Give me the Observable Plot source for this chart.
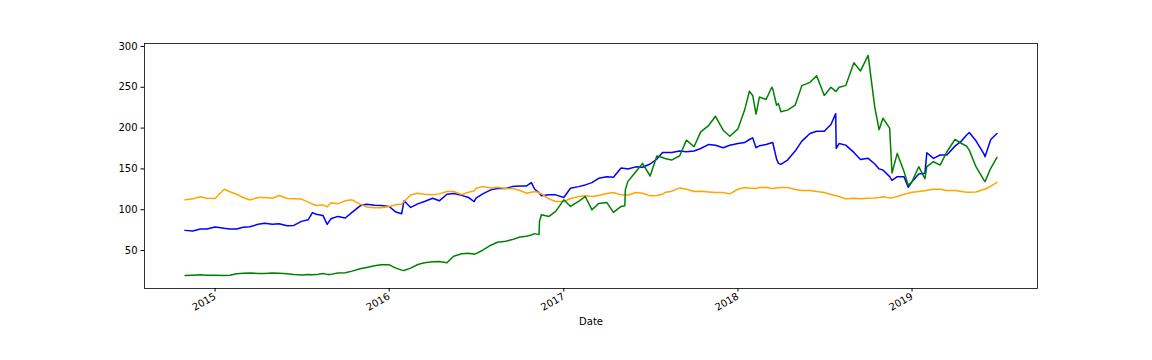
<!DOCTYPE html>
<html>
<head>
<meta charset="utf-8">
<script src="https://cdn.jsdelivr.net/npm/d3@7"></script>
<script src="https://cdn.jsdelivr.net/npm/@observablehq/plot@0.6"></script>
<style>
  html, body { margin: 0; padding: 0; background: white; }
</style>
</head>
<body>
<div id="chart"></div>
<script>
const dates = [
  "2014-10-30","2014-11-15","2014-12-01","2014-12-15",
  "2015-01-01","2015-01-20","2015-02-01","2015-02-15","2015-03-01","2015-03-15","2015-04-01","2015-04-15",
  "2015-05-01","2015-05-15","2015-06-01","2015-06-15","2015-07-01","2015-07-15","2015-07-24","2015-08-01",
  "2015-08-15","2015-08-24","2015-09-01","2015-09-15","2015-10-01","2015-10-15","2015-11-01","2015-11-15",
  "2015-12-01","2015-12-15",
  "2016-01-01","2016-01-15","2016-01-27","2016-02-01","2016-02-15","2016-03-01","2016-03-15","2016-04-01",
  "2016-04-15","2016-05-01","2016-05-15","2016-06-01","2016-06-15","2016-06-27","2016-07-01","2016-07-15",
  "2016-08-01","2016-08-15","2016-09-01","2016-09-15","2016-10-01","2016-10-15","2016-10-25","2016-11-01",
  "2016-11-10","2016-11-11","2016-11-15","2016-12-01","2016-12-15",
  "2017-01-01","2017-01-15","2017-02-01","2017-02-15","2017-03-01","2017-03-15","2017-04-01","2017-04-15",
  "2017-05-01","2017-05-09","2017-05-10","2017-05-15","2017-06-01","2017-06-15","2017-07-01","2017-07-15",
  "2017-07-27","2017-08-01","2017-08-15","2017-09-01","2017-09-15","2017-10-01","2017-10-15","2017-11-01",
  "2017-11-15","2017-12-01","2017-12-15",
  "2018-01-01","2018-01-15","2018-01-25","2018-02-01","2018-02-08","2018-02-15","2018-03-01","2018-03-13",
  "2018-03-15","2018-03-23","2018-03-27","2018-04-01","2018-04-15","2018-05-01","2018-05-15","2018-06-01",
  "2018-06-15","2018-07-01","2018-07-15","2018-07-25","2018-07-26","2018-08-01","2018-08-15","2018-09-01",
  "2018-09-15","2018-10-01","2018-10-15","2018-10-24","2018-11-01","2018-11-15","2018-11-20","2018-12-01",
  "2018-12-15","2018-12-24",
  "2019-01-01","2019-01-15","2019-01-28","2019-02-01","2019-02-15","2019-03-01","2019-03-15","2019-04-01",
  "2019-04-15","2019-04-25","2019-05-01","2019-05-15","2019-06-01","2019-06-03","2019-06-15","2019-06-28"
];

const blueValues = [
  74.7,73.9,76.4,76.4,
  78.8,77.2,76.4,76.4,78.4,79.2,82.1,83.3,
  82.1,82.9,80.4,80.8,85.7,87.7,96.5,94.5,
  93.0,82.0,89.0,91.8,89.8,96.7,104.8,106.8,
  105.6,105.2,
  104.0,97.1,95.0,110.9,102.8,107.2,110.1,114.1,
  110.9,119.0,119.8,117.6,115.0,110.0,114.1,119.4,
  124.3,125.9,125.9,128.3,129.2,129.2,133.2,125.1,
  121.0,120.0,117.0,118.2,118.2,
  115.0,126.3,128.3,130.4,133.2,138.5,140.5,139.7,
  151.0,150.5,150.5,150.0,152.5,152.0,156.0,162.0,
  170.0,170.0,170.0,172.0,171.0,172.0,175.0,180.0,
  179.0,176.0,179.0,
  181.1,182.3,186.0,188.0,176.0,178.3,179.9,182.0,
  182.3,162.0,156.8,155.6,160.8,171.8,184.0,193.3,
  196.2,196.2,204.3,217.7,175.0,181.1,179.1,170.2,
  161.6,162.9,156.0,150.0,148.6,140.5,136.0,140.5,
  140.5,127.5,
  134.4,143.8,144.6,169.8,162.9,167.0,167.0,177.9,
  184.4,191.3,194.5,184.4,168.0,164.9,186.0,193.3
];

const greenValues = [
  19.5,19.8,20.2,19.7,
  19.8,19.4,19.7,21.5,22.2,22.5,22.0,21.8,
  22.5,22.2,21.5,20.6,20.0,20.6,20.3,20.5,
  22.0,20.8,20.8,22.4,22.8,24.8,27.7,29.3,
  31.3,32.5,
  32.5,28.5,26.0,25.5,28.5,32.9,35.0,36.2,
  36.6,35.0,43.1,46.0,46.7,45.5,46.3,50.4,
  56.5,60.1,61.4,63.4,66.6,67.4,69.0,70.7,
  69.5,85.5,93.8,91.8,97.9,
  112.1,104.0,110.1,116.2,99.9,107.5,108.9,96.7,
  104.0,104.8,124.3,134.4,146.6,156.8,141.3,165.7,
  164.0,162.8,160.8,166.1,185.2,177.1,195.3,203.4,
  214.4,197.4,190.0,
  199,222,245,240,217,238,235,250,
  248,228,230,220,222,228,252,256,
  264,240,250,245,245,250,252,280,
  270,289,225,198,212,200,145,169,
  147,130,
  134.4,152.7,138,152.7,158.8,154.7,171,186,
  181.1,178,173,152.7,136,134.4,150.7,164
];

const orangeValues = [
  112.1,113.3,115.8,114.1,
  113.8,125.0,122.0,119.0,115.0,112.0,115.0,115.0,
  114.0,117.4,113.7,113.3,113.0,109.3,107.0,105.2,
  106.0,103.5,108.5,107.2,110.9,112.1,106.8,103.2,
  102.4,102.4,
  104.0,106.0,107.0,110.0,118.0,120.2,119.0,118.2,
  119.4,122.3,122.3,118.6,121.4,123.0,126.3,128.3,
  126.7,127.5,125.9,125.9,123.5,120.2,121.5,122.2,
  121.0,120.5,119.4,113.3,110.1,
  110.1,113.7,116.2,117.0,116.2,117.5,119.8,121.0,
  118.2,118.0,118.0,117.8,121.0,120.2,117.0,117.4,
  119.0,121.0,122.7,126.7,125.1,122.3,122.7,121.8,
  121.0,121.0,119.4,
  125.1,127.1,126.5,126.3,126.0,127.1,127.5,126.0,
  125.9,126.5,126.8,127.1,127.1,124.7,123.5,123.5,
  122.3,121.0,118.6,117.0,117.0,116.2,113.3,114.1,
  113.3,114.1,114.5,115.0,115.8,114.5,114.5,116.2,
  119.0,120.2,
  121.4,122.3,123.1,123.9,125.1,125.1,123.5,123.5,
  122.3,121.4,121.4,121.8,125.1,125.1,129.0,133.5
];

const yearTicks = ["2015-01-01","2016-01-01","2017-01-01","2018-01-01","2019-01-01"];
const yTicks = [50, 100, 150, 200, 250, 300];
const xLabel = "Date";

const toRows = (vals) => dates.map((d, i) => ({date: new Date(d), value: vals[i]}));
const blueRows = toRows(blueValues);
const greenRows = toRows(greenValues);
const orangeRows = toRows(orangeValues);

const chart = Plot.plot({
  width: 1152,
  height: 360,
  marginLeft: 144,
  marginRight: 115,
  marginTop: 43,
  marginBottom: 72,
  style: {fontFamily: "DejaVu Sans", fontSize: "10px", color: "black", background: "white"},
  x: {type: "utc", domain: [new Date("2014-08-06"), new Date("2019-09-21")]},
  y: {domain: [3.5, 303.6]},
  marks: [
    Plot.axisY({ticks: yTicks, tickSize: 3.5, tickPadding: 3.5, label: null, fontSize: 10}),
    Plot.axisX({ticks: yearTicks.map(d => new Date(d)), tickFormat: d3.utcFormat("%Y"),
                tickRotate: -30, tickSize: 3.5, tickPadding: 3.5, label: null, fontSize: 10}),
    Plot.lineY(blueRows, {x: "date", y: "value", stroke: "blue", strokeWidth: 1.5}),
    Plot.lineY(orangeRows, {x: "date", y: "value", stroke: "orange", strokeWidth: 1.5}),
    Plot.lineY(greenRows, {x: "date", y: "value", stroke: "green", strokeWidth: 1.5}),
    Plot.frame({stroke: "black", strokeWidth: 0.8}),
    Plot.text([xLabel], {frameAnchor: "bottom", dy: 36, fontSize: 10, fill: "black"})
  ]
});
document.getElementById("chart").appendChild(chart);
</script>
</body>
</html>
